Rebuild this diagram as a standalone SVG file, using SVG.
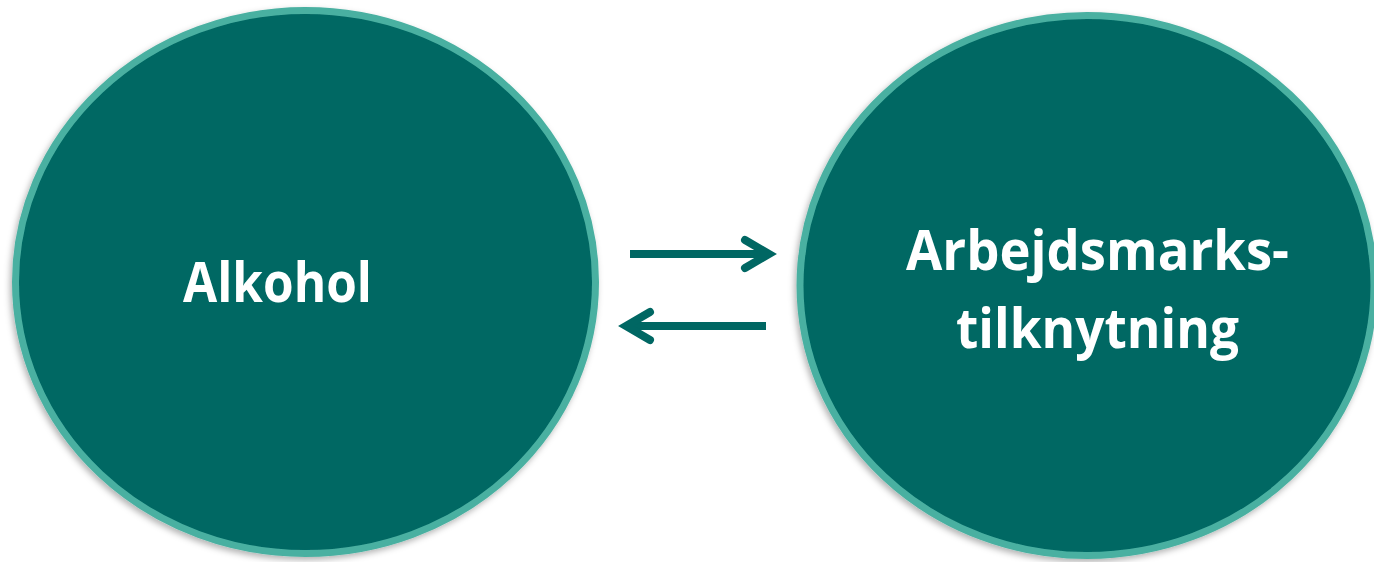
<svg xmlns="http://www.w3.org/2000/svg" width="1374" height="562" viewBox="0 0 1374 562">
<defs>
<filter id="sh" x="-10%" y="-10%" width="120%" height="120%">
<feDropShadow dx="-2" dy="3" stdDeviation="3" flood-color="#000" flood-opacity="0.3"/>
</filter>
</defs>
<style>
.node{fill:#006763;stroke:#4AB0A1;stroke-width:7;filter:url(#sh)}
.lbl{font-family:"Open Sans","Noto Sans",sans-serif;font-weight:700;font-size:55px;fill:#fff;text-anchor:middle}
.shaft{stroke:#006763;stroke-width:8;fill:none;stroke-linecap:butt}
.head{stroke:#006763;stroke-width:8;fill:none;stroke-linecap:round;stroke-linejoin:miter;stroke-miterlimit:10}
</style>
<rect width="1374" height="562" fill="#fff"/>
<g id="node-alkohol">
<ellipse class="node" cx="305.5" cy="282" rx="290" ry="271.5"/>
<text class="lbl" x="277.5" y="302" textLength="189" lengthAdjust="spacingAndGlyphs">Alkohol</text>
</g>
<g id="node-arbejdsmarkstilknytning">
<ellipse class="node" cx="1087" cy="285.5" rx="287" ry="270"/>
<text class="lbl" x="1097.5" y="269.5" textLength="383" lengthAdjust="spacingAndGlyphs">Arbejdsmarks-</text>
<text class="lbl" x="1097.5" y="347.5" textLength="283" lengthAdjust="spacingAndGlyphs">tilknytning</text>
</g>
<g id="connectors">
<line class="shaft" x1="630" y1="254" x2="769" y2="254"/>
<polyline class="head" points="745,240 769,254 745,268"/>
<line class="shaft" x1="766" y1="326" x2="626" y2="326"/>
<polyline class="head" points="650,312 626,326 650,340"/>
</g>
</svg>
